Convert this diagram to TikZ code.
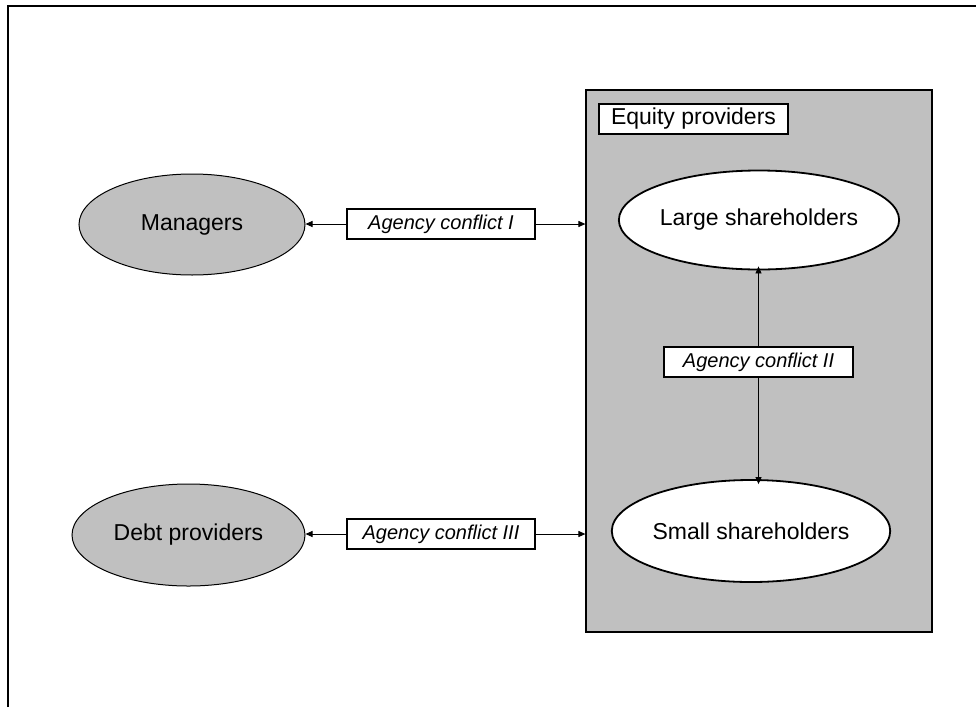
\documentclass[tikz,border=0pt]{standalone}
\usepackage{fontspec}
\setmainfont{Liberation Sans}
\usetikzlibrary{shapes.geometric,arrows.meta}
\definecolor{boxgray}{HTML}{C0C0C0}
\begin{document}
\begin{tikzpicture}[x=1pt,y=-1pt,
  bigtext/.style={font=\fontsize{23}{27}\selectfont},
  smalltext/.style={font=\fontsize{20}{24}\selectfont\itshape},
  grayell/.style={ellipse,draw,line width=1pt,fill=boxgray,inner sep=0pt,bigtext},
  whiteell/.style={ellipse,draw,line width=1.8pt,fill=white,inner sep=0pt,bigtext},
  conflictbox/.style={rectangle,draw,line width=1.5pt,fill=white,inner sep=0pt,minimum width=188pt,minimum height=30pt,smalltext},
  halfconn/.style={line width=1pt,-{Triangle[length=7pt,width=6pt]}}]
\useasboundingbox (0,0) rectangle (976,707);
\fill[white] (0,0) rectangle (976,707);
% outer frame (top and left only)
\draw[line width=1.5pt] (8,707) -- (8,6) -- (976,6);
% equity providers group
\node[rectangle,draw,line width=1.2pt,fill=boxgray,minimum width=346pt,minimum height=542pt,inner sep=0pt] (equity) at (759,361) {};
\node[rectangle,draw,line width=1.5pt,fill=white,minimum width=189pt,minimum height=30pt,inner sep=0pt,bigtext] (eqlabel) at (693.5,119) {Equity providers};
\node[whiteell,minimum width=246pt,minimum height=99pt] (large) at (759,220) {Large shareholders};
\node[whiteell,minimum width=246pt,minimum height=102pt] (small) at (751,531) {Small shareholders};
% left parties
\node[grayell,minimum width=226pt,minimum height=101pt] (managers) at (192,224.5) {Managers};
\node[grayell,minimum width=233pt,minimum height=102pt] (debt) at (188.5,535) {Debt providers};
% conflict labels
\node[conflictbox] (c1) at (441,224) {Agency conflict I};
\node[conflictbox] (c3) at (441,534) {Agency conflict III};
\node[conflictbox,minimum width=189pt] (c2) at (758.5,362) {Agency conflict II};
% connectors
\draw[halfconn] (c1.west) -- (managers.east |- c1.west);
\draw[halfconn] (c1.east) -- (equity.west |- c1.east);
\draw[halfconn] (c3.west) -- (debt.east |- c3.west);
\draw[halfconn] (c3.east) -- (equity.west |- c3.east);
\draw[halfconn,line width=0.8pt] (c2.north) -- ([yshift=4pt]c2.north |- large.south);
\draw[halfconn,line width=0.8pt] (c2.south) -- ([yshift=-5pt]c2.south |- small.north);
\end{tikzpicture}
\end{document}
